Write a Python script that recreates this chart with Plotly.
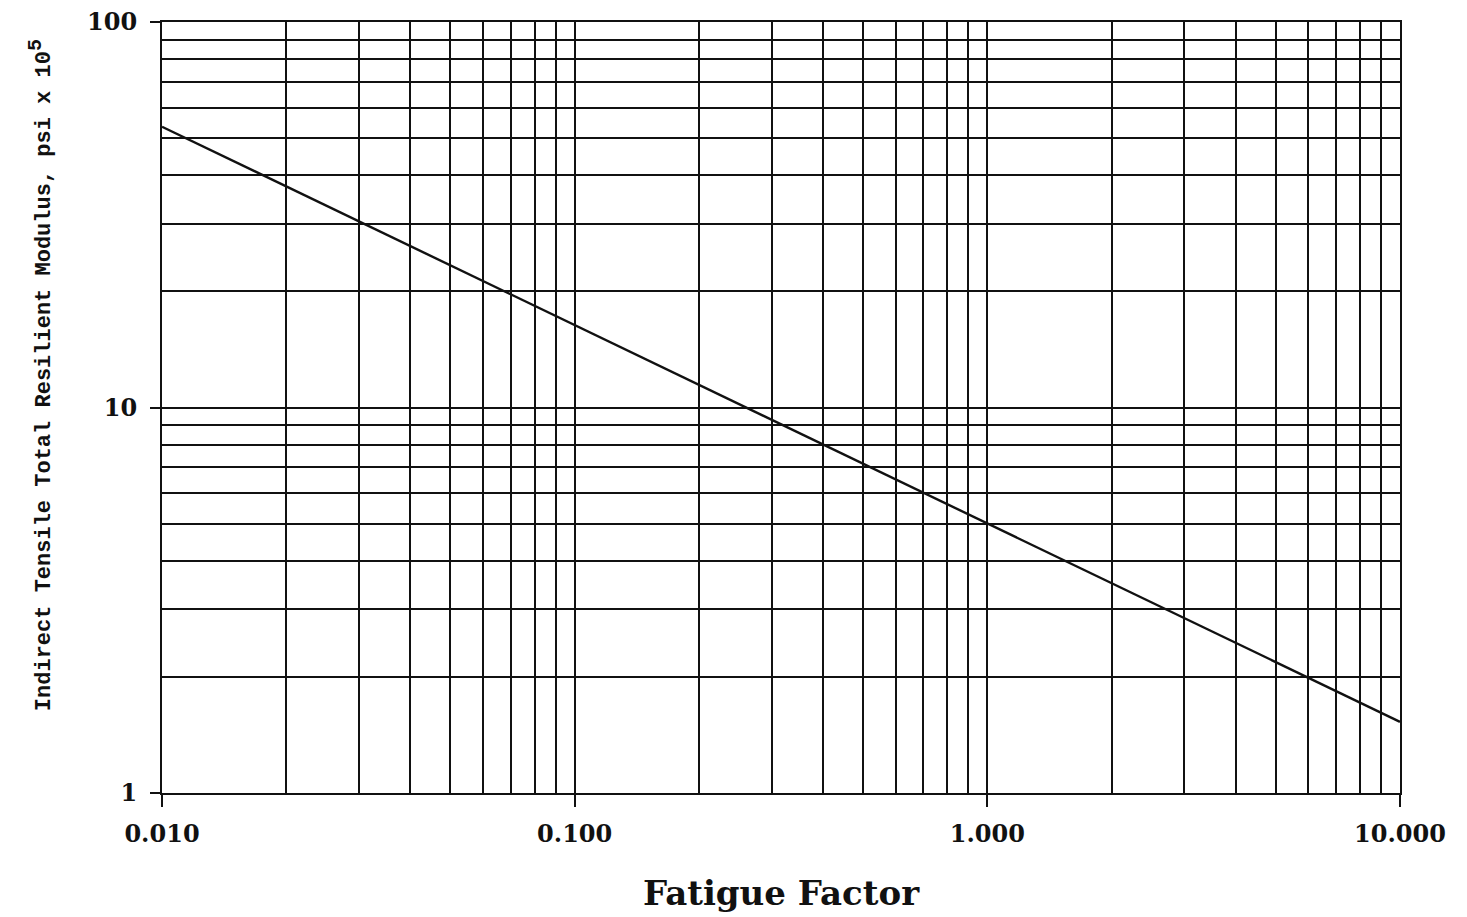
import plotly.graph_objects as go

# Fatigue factor vs. indirect tensile total resilient modulus (log-log)
fatigue_factor = [0.01, 1.0, 10.0]
modulus = [53.5, 5.0, 1.53]

x_major = [0.01, 0.1, 1, 10]
x_major_text = ["0.010", "0.100", "1.000", "10.000"]
y_major = [1, 10, 100]
y_major_text = ["1", "10", "100"]

x_minor = [m * d for d in (0.01, 0.1, 1) for m in range(2, 10)]
y_minor = [m * d for d in (1, 10) for m in range(2, 10)]

INK = "#111111"
FONT = "DejaVu Serif"
MONO = "Liberation Mono"

fig = go.Figure()
fig.add_trace(go.Scatter(
    x=fatigue_factor, y=modulus, mode="lines",
    line=dict(color=INK, width=2.4), showlegend=False, hoverinfo="skip",
))

fig.update_layout(
    width=1467, height=917,
    margin=dict(l=162, r=67, t=22, b=124),
    paper_bgcolor="white", plot_bgcolor="white",
    font=dict(family=FONT, color=INK),
    xaxis=dict(
        type="log", range=[-2, 1], automargin=False,
        tickvals=x_major, ticktext=x_major_text,
        ticks="outside", ticklen=12, tickwidth=2, tickcolor=INK,
        ticklabelstandoff=6,
        tickfont=dict(family=FONT, size=24, color=INK, weight="bold"),
        showgrid=True, gridcolor=INK, gridwidth=2,
        minor=dict(tickvals=x_minor, ticks="", showgrid=True,
                   gridcolor=INK, gridwidth=2),
        showline=True, linecolor=INK, linewidth=2, mirror=True,
        zeroline=False,
        title=dict(text="Fatigue Factor", standoff=34,
                   font=dict(family=FONT, size=34, color=INK, weight="bold")),
    ),
    yaxis=dict(
        type="log", range=[0, 2], automargin=False,
        tickvals=y_major, ticktext=y_major_text,
        ticks="outside", ticklen=10, tickwidth=2, tickcolor=INK,
        ticklabelstandoff=8,
        tickfont=dict(family=FONT, size=24, color=INK, weight="bold"),
        showgrid=True, gridcolor=INK, gridwidth=2,
        minor=dict(tickvals=y_minor, ticks="", showgrid=True,
                   gridcolor=INK, gridwidth=2),
        showline=True, linecolor=INK, linewidth=2, mirror=True,
        zeroline=False,
    ),
    annotations=[dict(
        text=("Indirect Tensile Total Resilient Modulus, psi x 10"
              "<sup><span style='font-size:20px'>5</span></sup>"),
        textangle=-90, xref="paper", yref="paper",
        x=-0.0985, y=0.542, xanchor="center", yanchor="middle",
        showarrow=False,
        font=dict(family=MONO, size=22, color=INK, weight="bold"),
    )],
)

fig.write_html("out.html")
